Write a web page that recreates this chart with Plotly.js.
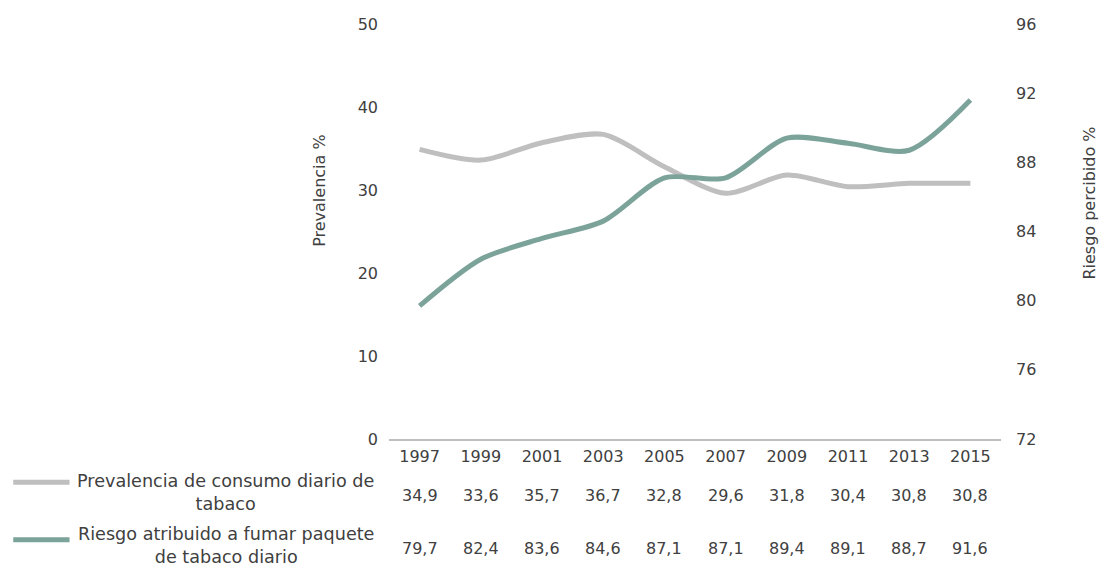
<!DOCTYPE html>
<html>
<head>
<meta charset="utf-8">
<script src="https://cdn.plot.ly/plotly-3.0.0.min.js"></script>
<style>html,body{margin:0;padding:0;background:#fff;}#chart{width:1099px;height:566px;}</style>
</head>
<body>
<div id="chart"></div>
<script>
var years = ['1997','1999','2001','2003','2005','2007','2009','2011','2013','2015'];
var prevalencia = [34.9,33.6,35.7,36.7,32.8,29.6,31.8,30.4,30.8,30.8];
var riesgo = [79.7,82.4,83.6,84.6,87.1,87.1,89.4,89.1,88.7,91.6];
var seriesNames = ['Prevalencia de consumo diario de<br>tabaco','Riesgo atribuido a fumar paquete<br>de tabaco diario'];
var leftTicks = [0,10,20,30,40,50];
var rightTicks = [72,76,80,84,88,92,96];

var FONT = '"DejaVu Sans", sans-serif';
var TXT = '#404040';
var C1 = '#BFBFBF';
var C2 = '#7BA399';

function fmt(v){ return v.toFixed(1).replace('.', ','); }

var traces = [
  {x: years, y: prevalencia, type:'scatter', mode:'lines', name:'Prevalencia',
   line:{color:C1, width:5, shape:'spline', smoothing:0.8}, yaxis:'y', hoverinfo:'skip'},
  {x: years, y: riesgo, type:'scatter', mode:'lines', name:'Riesgo',
   line:{color:C2, width:5, shape:'spline', smoothing:0.8}, yaxis:'y2', hoverinfo:'skip'}
];

var annotations = [];
var rowY = [-0.135, -0.263];
var labelY = [-0.130, -0.257];
var rows = [prevalencia, riesgo];
rows.forEach(function(arr, r){
  arr.forEach(function(v, i){
    annotations.push({x: i, xref:'x', y: rowY[r], yref:'paper', text: fmt(v),
      showarrow:false, font:{family:FONT, size:16, color:TXT}, xanchor:'center', yanchor:'middle'});
  });
  annotations.push({x: -0.267, xref:'paper', y: labelY[r], yref:'paper', text: seriesNames[r],
    showarrow:false, align:'center', font:{family:FONT, size:17.6, color:TXT},
    xanchor:'center', yanchor:'middle'});
});
annotations.push({x:-0.1127, xref:'paper', y:0.598, yref:'paper', text:'Prevalencia %', textangle:-90,
  showarrow:false, font:{family:FONT, size:16, color:TXT}, xanchor:'center', yanchor:'middle'});
annotations.push({x:1.145, xref:'paper', y:0.569, yref:'paper', text:'Riesgo percibido %', textangle:-90,
  showarrow:false, font:{family:FONT, size:16, color:TXT}, xanchor:'center', yanchor:'middle'});

var shapes = [
  {type:'line', xref:'paper', yref:'paper', x0:-0.614, x1:-0.522, y0:-0.104, y1:-0.104, line:{color:C1, width:5}},
  {type:'line', xref:'paper', yref:'paper', x0:-0.614, x1:-0.522, y0:-0.243, y1:-0.243, line:{color:C2, width:5}}
];

var layout = {
  width:1099, height:566,
  margin:{l:389, r:98, t:24, b:127},
  paper_bgcolor:'#fff', plot_bgcolor:'#fff',
  showlegend:false,
  font:{family:FONT, size:16, color:TXT},
  xaxis:{type:'category', range:[-0.5, years.length-0.5], autorange:false, showgrid:false, zeroline:false,
    showline:true, linecolor:'#BFBFBF', linewidth:1.5,
    ticks:'', tickfont:{family:FONT, size:16, color:TXT}, ticklabelstandoff:2},
  yaxis:{range:[0,50], tickvals:leftTicks, showgrid:false, zeroline:false, showline:false, ticks:'',
    tickfont:{family:FONT, size:16, color:TXT}, ticklabelstandoff:10},
  yaxis2:{range:[72,96], tickvals:rightTicks, overlaying:'y', side:'right', showgrid:false, zeroline:false,
    showline:false, ticks:'', tickfont:{family:FONT, size:16, color:TXT}, ticklabelstandoff:14},
  annotations: annotations,
  shapes: shapes
};

Plotly.newPlot('chart', traces, layout, {displayModeBar:false, staticPlot:true});
</script>
</body>
</html>
